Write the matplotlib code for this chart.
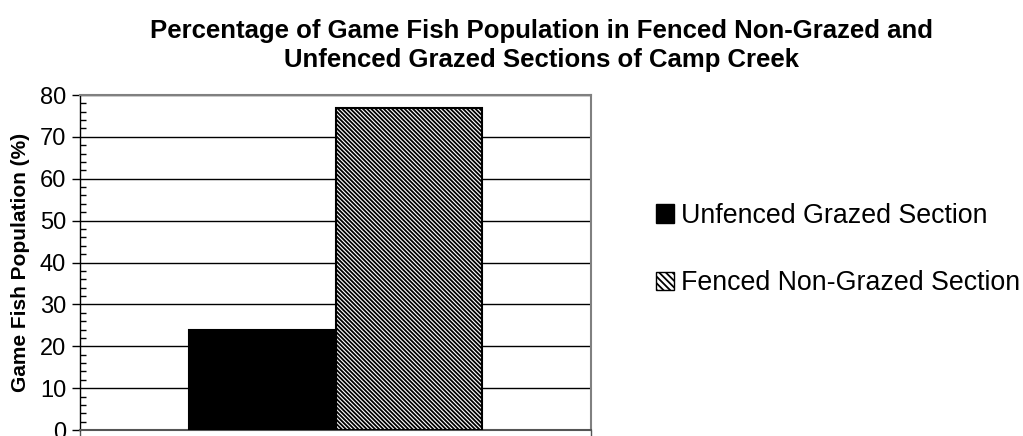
import matplotlib
matplotlib.use("Agg")
import matplotlib.pyplot as plt
from matplotlib.ticker import MultipleLocator
from matplotlib.patches import Patch

categories = ["Unfenced Grazed Section", "Fenced Non-Grazed Section"]
values = [24, 77]
yticks = [0, 10, 20, 30, 40, 50, 60, 70, 80]
title = "Percentage of Game Fish Population in Fenced Non-Grazed and\nUnfenced Grazed Sections of Camp Creek"
ylabel = "Game Fish Population (%)"

plt.rcParams['font.family'] = ['Liberation Sans', 'DejaVu Sans']
plt.rcParams['hatch.linewidth'] = 1.3
plt.rcParams['hatch.color'] = 'black'

fig = plt.figure(figsize=(10.23, 4.36), dpi=100)
ax = fig.add_axes([80/1023, 1-430/436, (591-80)/1023, (430-95)/436])

width = 0.2875
offsets = [-width/2, width/2]
styles = [dict(facecolor='black', edgecolor='black', hatch=None),
          dict(facecolor='white', edgecolor='black', hatch='\\\\\\\\\\\\\\\\')]
handles = []
for cat, val, off, st in zip(categories, values, offsets, styles):
    b = ax.bar(off, val, width=width, linewidth=1.5, zorder=3, label=cat, **st)
    handles.append(Patch(facecolor=st['facecolor'], edgecolor='black',
                         hatch=('\\\\\\\\\\' if st['hatch'] else None), label=cat))

ax.set_xlim(-0.5, 0.5)
ax.set_ylim(0, 80)
ax.set_yticks(yticks)
ax.yaxis.set_minor_locator(MultipleLocator(2))
ax.set_xticks([-0.5, 0.5])
ax.set_xticklabels(['', ''])
ax.tick_params(axis='x', direction='out', length=5, width=1, color='#555555')
ax.tick_params(axis='y', which='major', direction='out', length=6, width=1, labelsize=17, pad=4)
ax.tick_params(axis='y', which='minor', direction='in', length=4, width=1)
ax.yaxis.grid(True, color='black', linewidth=1, zorder=0)
ax.set_axisbelow(True)
for s in ['top', 'right']:
    ax.spines[s].set_color('#808080')
    ax.spines[s].set_linewidth(1.5)
ax.spines['bottom'].set_color('#555555')
ax.spines['bottom'].set_linewidth(1.5)
ax.spines['left'].set_color('black')
ax.spines['left'].set_linewidth(1)

ax.set_ylabel(ylabel, fontsize=15, fontweight='bold', labelpad=7)
fig.text(542/1023, 1-45.5/436, title, ha='center', va='center', fontsize=18.5,
         fontweight='bold', linespacing=1.26)

leg = fig.legend(handles=handles, loc='center left', bbox_to_anchor=(645/1023, 1-249.5/436),
                 frameon=False, fontsize=19.3, handlelength=0.7, handleheight=0.7,
                 handletextpad=0.25, labelspacing=1.55, borderaxespad=0)

fig.savefig("out.png", dpi=100)
